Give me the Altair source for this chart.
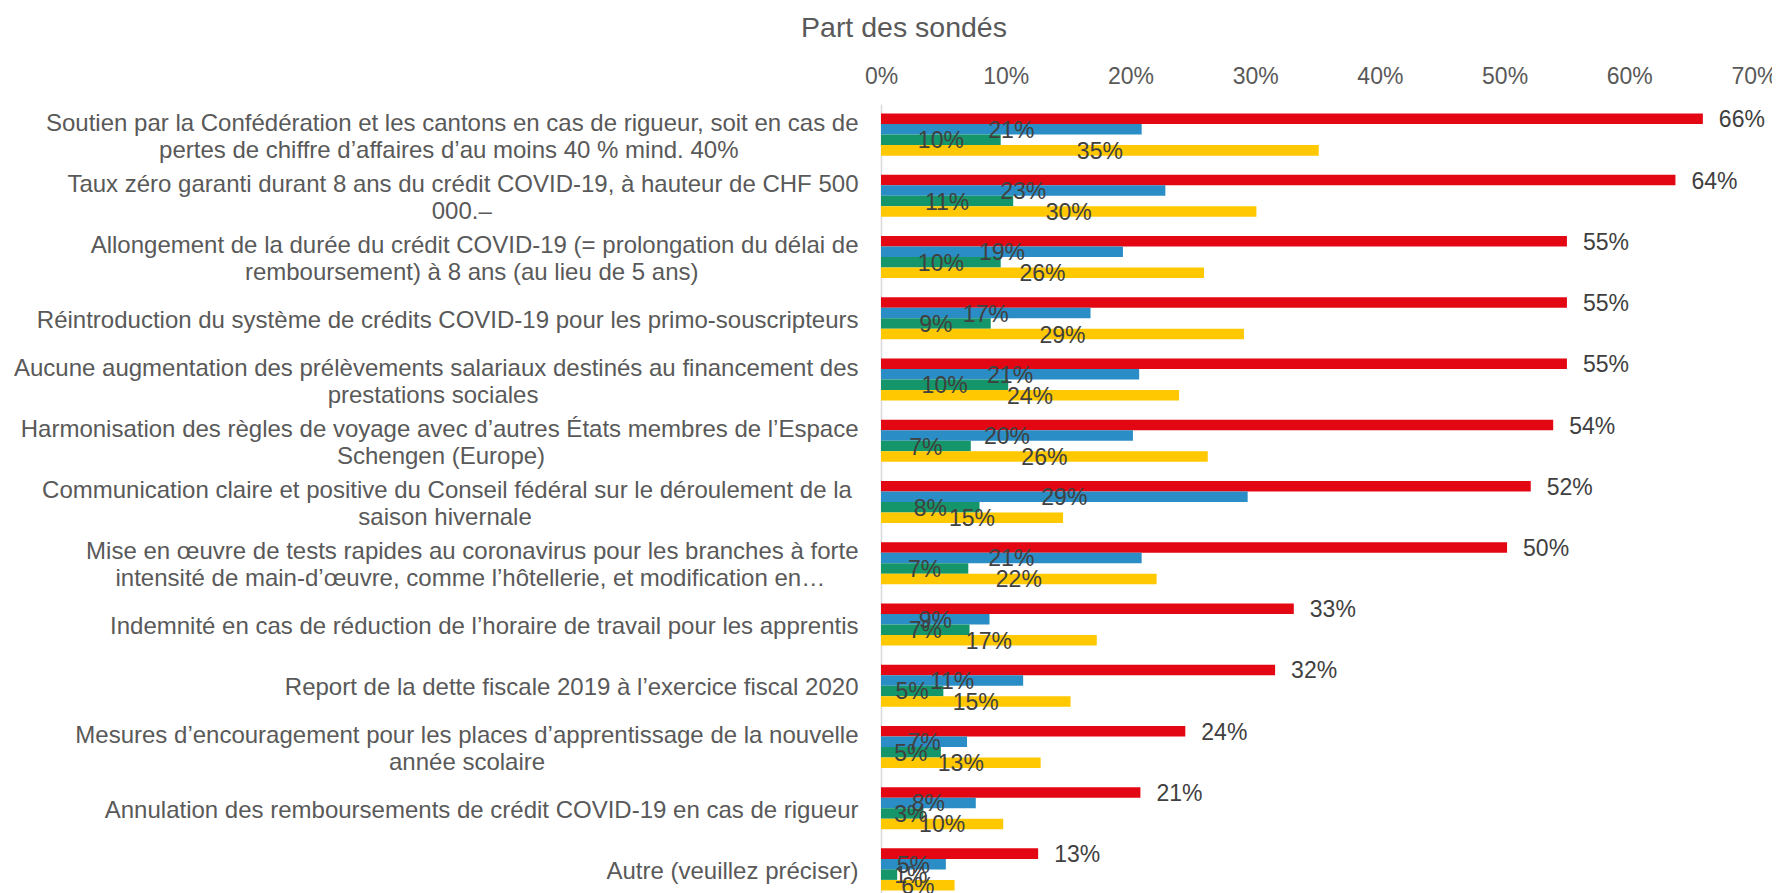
import altair as alt
import pandas as pd

# Category labels (line 1 / line 2 as shown in the chart)
ligne1 = [
    "Soutien par la Confédération et les cantons en cas de rigueur, soit en cas de",
    "Taux zéro garanti durant 8 ans du crédit COVID-19, à hauteur de CHF 500",
    "Allongement de la durée du crédit COVID-19 (= prolongation du délai de",
    "Réintroduction du système de crédits COVID-19 pour les primo-souscripteurs",
    "Aucune augmentation des prélèvements salariaux destinés au financement des",
    "Harmonisation des règles de voyage avec d’autres États membres de l’Espace",
    "Communication claire et positive du Conseil fédéral sur le déroulement de la",
    "Mise en œuvre de tests rapides au coronavirus pour les branches à forte",
    "Indemnité en cas de réduction de l’horaire de travail pour les apprentis",
    "Report de la dette fiscale 2019 à l’exercice fiscal 2020",
    "Mesures d’encouragement pour les places d’apprentissage de la nouvelle",
    "Annulation des remboursements de crédit COVID-19 en cas de rigueur",
    "Autre (veuillez préciser)",
]
ligne2 = [
    "pertes de chiffre d’affaires d’au moins 40 % mind. 40%",
    "000.–",
    "remboursement) à 8 ans (au lieu de 5 ans)",
    "",
    "prestations sociales",
    "Schengen (Europe)",
    "saison hivernale",
    "intensité de main-d’œuvre, comme l’hôtellerie, et modification en…",
    "",
    "",
    "année scolaire",
    "",
    "",
]

series = ["Série 1", "Série 2", "Série 3", "Série 4"]
couleurs = ["#E30613", "#2A8DC5", "#15966A", "#FFC800"]

rouge = [65.9, 63.7, 55.0, 55.0, 55.0, 53.9, 52.1, 50.2, 33.1, 31.6, 24.4, 20.8, 12.6]
bleu = [20.9, 22.8, 19.4, 16.8, 20.7, 20.2, 29.4, 20.9, 8.7, 11.4, 6.9, 7.6, 5.2]
vert = [9.6, 10.6, 9.6, 8.8, 10.2, 7.2, 7.9, 7.0, 7.1, 5.0, 4.8, 3.4, 1.3]
jaune = [35.1, 30.1, 25.9, 29.1, 23.9, 26.2, 14.6, 22.1, 17.3, 15.2, 12.8, 9.8, 5.9]

x_ticks = [0, 10, 20, 30, 40, 50, 60, 70]

# style: non-breaking-space padding (protected by a zero-width space) so that
# second lines appear centred under first lines, as in the original
NB = "\u00a0"
ZW = "\u200b"
pad1 = [0, 0, 0, 0, 0, 0, 1, 0, 0, 0, 0, 0, 0]
pad2 = [18, 55, 24, 0, 48, 47, 49, 5, 0, 0, 47, 0, 0]

cats = []
for l1, l2, p1, p2 in zip(ligne1, ligne2, pad1, pad2):
    s = l1 + (NB * p1 + ZW if p1 else "")
    if l2:
        s += "|" + l2 + (NB * p2 + ZW if p2 else "")
    cats.append(s)

rows = []
for i, c in enumerate(cats):
    for s, vals in zip(series, [rouge, bleu, vert, jaune]):
        rows.append({"cat": c, "serie": s, "v": vals[i]})
df = pd.DataFrame(rows)

FONT = "Liberation Sans, Arial, sans-serif"
GREY = "#595959"

y_enc = alt.Y(
    "cat:N",
    sort=cats,
    scale=alt.Scale(paddingInner=0, paddingOuter=0),
    axis=alt.Axis(
        title=None,
        labelExpr="split(datum.label, '|')",
        labelFontSize=24,
        labelColor=GREY,
        labelFont=FONT,
        labelAlign="right",
        labelBaseline="middle",
        labelLineHeight=27,
        labelPadding=23,
        labelOffset={
            "condition": {"test": "indexof(datum.value, '|') >= 0", "value": -11},
            "value": 2.5,
        },
        labelLimit=1000,
        ticks=False,
        tickSize=0,
        domain=True,
        domainColor="#D9D9D9",
        domainWidth=1.5,
        grid=False,
    ),
)
yoff_enc = alt.YOffset(
    "serie:N", sort=series, scale=alt.Scale(paddingInner=0, paddingOuter=0.914)
)

x_axis = alt.Axis(
    orient="top",
    values=x_ticks,
    labelExpr="datum.value + '%'",
    labelFontSize=23,
    labelColor=GREY,
    labelFont=FONT,
    labelFlush=False,
    labelBaseline="alphabetic",
    labelPadding=21,
    ticks=False,
    tickSize=0,
    domain=False,
    grid=False,
    title="Part des sondés",
    titleFont=FONT,
    titleFontSize=28.5,
    titleFontWeight="normal",
    titleColor=GREY,
    titleX=22.5,
    titleY=-68,
    titleAlign="center",
    titleBaseline="alphabetic",
    titleAnchor="start",
)
x_scale = alt.Scale(domain=[0, 70], nice=False, zero=True)

base = alt.Chart(df).encode(y=y_enc, yOffset=yoff_enc)

bars = base.mark_bar().encode(
    x=alt.X("v:Q", scale=x_scale, axis=x_axis),
    color=alt.Color(
        "serie:N", sort=series, scale=alt.Scale(domain=series, range=couleurs), legend=None
    ),
)

lab_red = (
    base.transform_filter(alt.datum.serie == series[0])
    .transform_calculate(lab="round(datum.v) + '%'")
    .mark_text(align="left", baseline="middle", dx=16, dy=1.5, fontSize=23, font=FONT, color="#404040")
    .encode(x=alt.X("v:Q", scale=x_scale, axis=x_axis), text="lab:N")
)

lab_other = (
    base.transform_filter(alt.datum.serie != series[0])
    .transform_calculate(lab="round(datum.v) + '%'", mid="max(datum.v / 2, 2.4)")
    .mark_text(align="center", baseline="middle", dy=1.5, fontSize=23, font=FONT, color="#404040")
    .encode(x=alt.X("mid:Q", scale=x_scale, axis=x_axis), text="lab:N")
)

chart = (
    alt.layer(bars, lab_other, lab_red)
    .properties(
        width=873,
        height=796,
        padding={"left": 873, "top": 96, "right": 18, "bottom": 0},
        autosize=alt.AutoSizeParams(type="none"),
    )
    .configure(font=FONT)
    .configure_view(stroke="transparent", strokeWidth=0)
)

chart.save("out.html", embed_options={"renderer": "svg", "actions": False})
